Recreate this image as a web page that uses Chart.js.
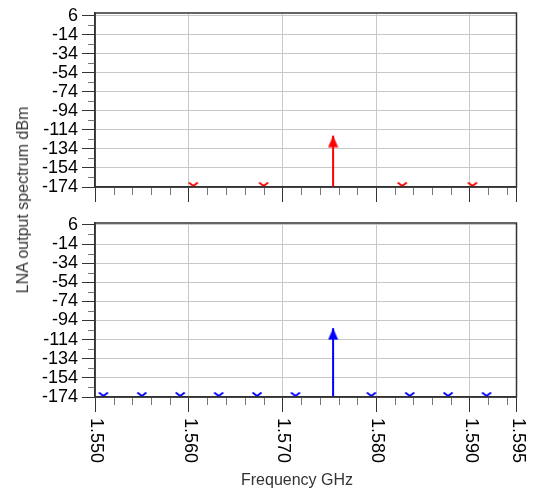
<!DOCTYPE html>
<html>
<head>
<meta charset="utf-8">
<title>LNA output spectrum</title>
<script src="https://cdn.jsdelivr.net/npm/chart.js@4.4.1/dist/chart.umd.min.js"></script>
<style>
    html, body { margin: 0; padding: 0; background: #fff; }
    #wrap { position: relative; width: 533px; height: 492px; overflow: hidden; }
    #wrap canvas { position: absolute; left: 0; }
    #topChart { top: 0; }
    #bottomChart { top: 210px; }
    #yTitle {
        position: absolute; left: 23px; top: 200px;
        transform: translate(-50%, -50%) rotate(-90deg);
        font: 16px 'Liberation Sans', Arial, sans-serif;
        color: #333; white-space: nowrap;
    }
</style>
</head>
<body>
<div id="wrap">
    <canvas id="topChart" width="533" height="210"></canvas>
    <canvas id="bottomChart" width="533" height="282"></canvas>
    <div id="yTitle">LNA output spectrum dBm</div>
</div>
<script>
// Values
const freqTicks = [1.550, 1.560, 1.570, 1.580, 1.590, 1.595];
const freqLabels = ['1.550', '1.560', '1.570', '1.580', '1.590', '1.595'];
const levelTicks = [6, -14, -34, -54, -74, -94, -114, -134, -154, -174];
const carrierFreq = 1.57542;
const topCarrierLevel = -120;
const bottomCarrierLevel = -102;
const floorLevel = -174;
const topSpurFreqs = [1.5605, 1.5680, 1.5828, 1.5903];
const bottomSpurFreqs = [1.5509, 1.5550, 1.5591, 1.5632, 1.5673, 1.5714, 1.5795, 1.5836, 1.5877, 1.5918];

const FONT = "'Liberation Sans', Arial, sans-serif";
const AREA = { left: 95, right: 516.5, top: 11, bottom: 187 };

// arrow head: tip sits on the data point
function makeArrow(color) {
    const c = document.createElement('canvas');
    c.width = 11; c.height = 24;
    const g = c.getContext('2d');
    g.fillStyle = color;
    g.beginPath();
    g.moveTo(5.5, 12); g.lineTo(10.5, 23.5); g.lineTo(0.5, 23.5);
    g.closePath(); g.fill();
    return c;
}

// small "v" marker sitting on the floor of the plot
function makeChevron(color) {
    const c = document.createElement('canvas');
    c.width = 12; c.height = 12;
    const g = c.getContext('2d');
    g.strokeStyle = color; g.lineWidth = 1.8;
    g.beginPath();
    g.moveTo(1.5, 1.5); g.lineTo(6, 5); g.lineTo(10.5, 1.5);
    g.stroke();
    return c;
}

function isMajor(list, v, eps) {
    return list.some(t => Math.abs(t - v) < eps);
}

// frame, minor ticks, rotated x labels and x title
const framePlugin = {
    id: 'frame',
    afterDraw(chart, args, opts) {
        const { ctx, chartArea: a, scales: { x, y } } = chart;
        ctx.save();

        // minor ticks
        ctx.strokeStyle = '#777';
        ctx.lineWidth = 1;
        ctx.beginPath();
        for (let i = 1; i < 23; i++) {
            const v = 1.55 + i * 0.002;
            if (isMajor(freqTicks, v, 1e-6)) continue;
            const px = Math.round(x.getPixelForValue(v)) + 0.5;
            ctx.moveTo(px, a.bottom); ctx.lineTo(px, a.bottom + 8);
        }
        for (let i = 0; i < levelTicks.length - 1; i++) {
            const py = Math.round(y.getPixelForValue(levelTicks[i] - 10)) + 0.5;
            ctx.moveTo(a.left - 7, py); ctx.lineTo(a.left, py);
        }
        ctx.stroke();

        // plot frame
        ctx.strokeStyle = '#333';
        ctx.lineWidth = 1.5;
        ctx.strokeRect(a.left, a.top, a.right - a.left, a.bottom - a.top);

        if (opts.labels) {
            ctx.fillStyle = '#000';
            ctx.font = '18px ' + FONT;
            ctx.textAlign = 'left';
            ctx.textBaseline = 'middle';
            freqTicks.forEach((v, i) => {
                ctx.save();
                ctx.translate(x.getPixelForValue(v) + 1, a.bottom + 21);
                ctx.rotate(Math.PI / 2);
                ctx.fillText(freqLabels[i], 0, 0);
                ctx.restore();
            });
            ctx.fillStyle = '#333';
            ctx.font = '16px ' + FONT;
            ctx.textAlign = 'center';
            ctx.fillText('Frequency GHz', 297, a.bottom + 84);
        }
        ctx.restore();
    }
};

function buildChart(id, color, spurFreqs, carrierLevel, yMax, showLabels) {
    const canvas = document.getElementById(id);
    const arrow = makeArrow(color);
    const chevron = makeChevron(color);

    return new Chart(canvas, {
        type: 'scatter',
        data: {
            datasets: [
                {
                    data: [{ x: carrierFreq, y: floorLevel }, { x: carrierFreq, y: carrierLevel }],
                    showLine: true,
                    borderColor: color,
                    borderWidth: 2,
                    pointStyle: arrow,
                    pointRadius: [0, 5],
                    clip: false
                },
                {
                    data: spurFreqs.map(f => ({ x: f, y: floorLevel })),
                    showLine: false,
                    pointStyle: chevron,
                    pointRadius: 5,
                    clip: false
                }
            ]
        },
        options: {
            responsive: false,
            animation: false,
            devicePixelRatio: 1,
            events: [],
            layout: { padding: { top: AREA.top, right: 533 - AREA.right, left: 0, bottom: 0 } },
            plugins: {
                legend: { display: false },
                tooltip: { enabled: false },
                frame: { labels: showLabels }
            },
            scales: {
                x: {
                    type: 'linear',
                    min: 1.55,
                    max: 1.595,
                    afterBuildTicks: s => { s.ticks = freqTicks.map(v => ({ value: v })); },
                    afterFit: s => { s.height = canvas.height - AREA.bottom; },
                    ticks: { display: false },
                    grid: { color: '#c8c8c8', lineWidth: 1, tickLength: 15, tickColor: '#333', drawTicks: true },
                    border: { display: true, color: '#333', width: 1.5 }
                },
                y: {
                    type: 'linear',
                    min: floorLevel,
                    max: yMax,
                    afterBuildTicks: s => { s.ticks = levelTicks.map(v => ({ value: v })); },
                    afterFit: s => { s.width = AREA.left; },
                    ticks: {
                        autoSkip: false,
                        color: '#000',
                        padding: 4,
                        font: { family: FONT, size: 18, lineHeight: 1 },
                        callback: v => String(v)
                    },
                    grid: { color: '#c8c8c8', lineWidth: 1, tickLength: 13, tickColor: '#333' },
                    border: { display: true, color: '#333', width: 1.5 }
                }
            }
        },
        plugins: [framePlugin]
    });
}

document.addEventListener('DOMContentLoaded', () => {
    buildChart('topChart', '#ff0000', topSpurFreqs, topCarrierLevel, 9, false);
    buildChart('bottomChart', '#0000ff', bottomSpurFreqs, bottomCarrierLevel, 8, true);
});
</script>
</body>
</html>
